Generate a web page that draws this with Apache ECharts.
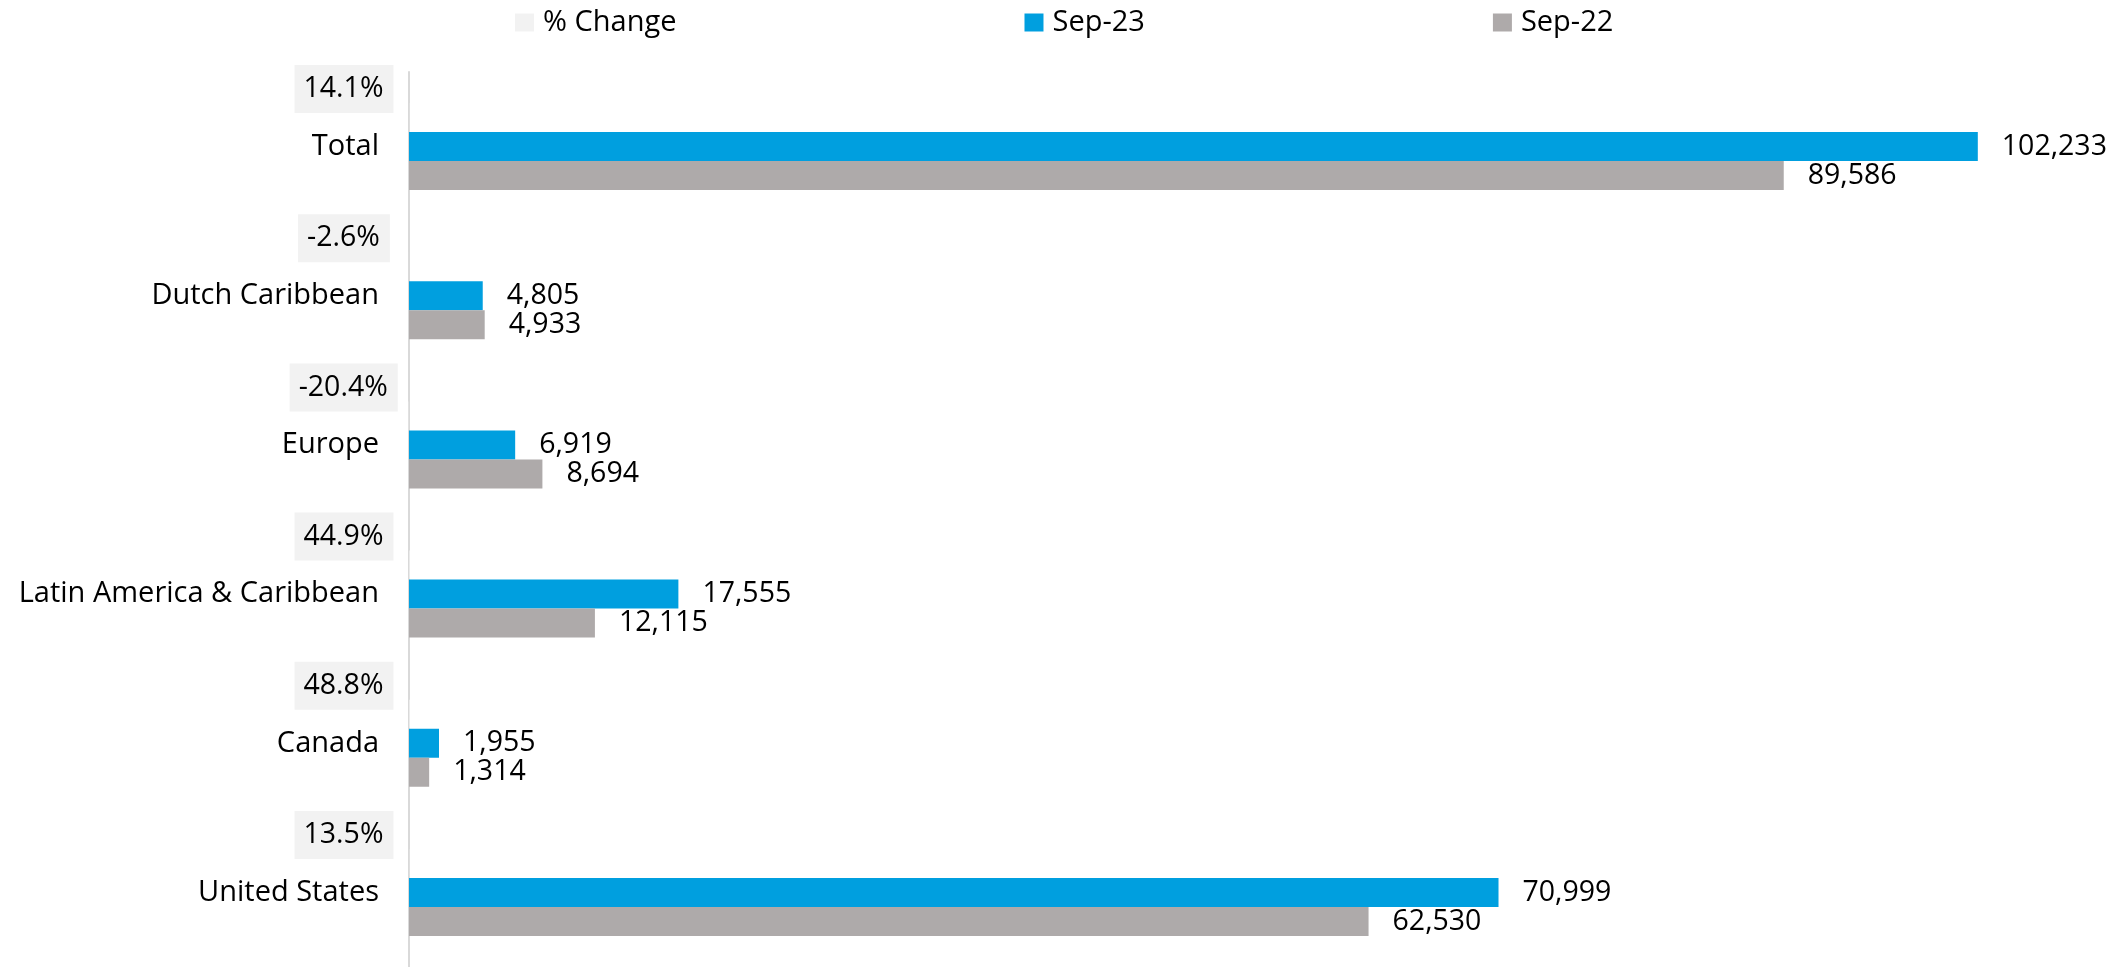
<!DOCTYPE html>
<html>
<head>
<meta charset="utf-8">
<title>Sep-23 vs Sep-22</title>
<script src="https://cdn.jsdelivr.net/npm/echarts@6/dist/echarts.min.js"></script>
<style>
  html, body { margin: 0; padding: 0; background: #fff; }
  #main { width: 2123px; height: 967px; }
</style>
</head>
<body>
<div id="main"></div>
<script>
// data
var regions = ['Total', 'Dutch Caribbean', 'Europe', 'Latin America & Caribbean', 'Canada', 'United States'];
var pctChange = [14.1, -2.6, -20.4, 44.9, 48.8, 13.5];
var sep23 = [102233, 4805, 6919, 17555, 1955, 70999];
var sep22 = [89586, 4933, 8694, 12115, 1314, 62530];

var font = 'Open Sans';
var chart = echarts.init(document.getElementById('main'));

function numLabel() {
    return {
        show: true,
        position: 'right',
        distance: 24,
        fontFamily: font,
        fontSize: 28.5,
        color: '#000',
        formatter: function (p) { return p.value.toLocaleString('en-US'); }
    };
}

chart.setOption({
    animation: false,
    textStyle: { fontFamily: font },
    legend: {
        left: 515,
        top: 8,
        padding: 0,
        itemWidth: 19,
        itemHeight: 18,
        itemGap: 348,
        icon: 'rect',
        textStyle: { fontFamily: font, fontSize: 29, color: '#000', padding: [0, 0, 0, 4] },
        data: ['% Change', 'Sep-23', 'Sep-22']
    },
    grid: { left: 409, top: 72, width: 1688, height: 897 },
    xAxis: {
        type: 'value',
        min: 0,
        max: 110000,
        show: false
    },
    yAxis: {
        type: 'category',
        inverse: true,
        data: regions,
        axisLine: { show: true, lineStyle: { color: '#D9D9D9', width: 2 } },
        axisTick: { show: false },
        splitLine: { show: false },
        axisLabel: { fontFamily: font, fontSize: 29, color: '#000', margin: 30 }
    },
    series: [
        {
            name: '% Change',
            type: 'bar',
            barWidth: 29,
            barGap: '0%',
            clip: false,
            data: pctChange,
            itemStyle: { color: '#F2F2F2' },
            label: {
                show: true,
                position: [-65, '50%'],
                offset: [0, -28.5],
                align: 'center',
                verticalAlign: 'middle',
                fontFamily: font,
                fontSize: 28.5,
                lineHeight: 28,
                color: '#000',
                backgroundColor: '#F2F2F2',
                padding: [10, 10, 10, 9],
                formatter: function (p) { return p.value.toFixed(1) + '%'; }
            }
        },
        {
            name: 'Sep-23',
            type: 'bar',
            barWidth: 29,
            barGap: '0%',
            data: sep23,
            itemStyle: { color: '#009FDF' },
            label: numLabel()
        },
        {
            name: 'Sep-22',
            type: 'bar',
            barWidth: 29,
            barGap: '0%',
            data: sep22,
            itemStyle: { color: '#AEAAAA' },
            label: numLabel()
        }
    ]
});
</script>
</body>
</html>
